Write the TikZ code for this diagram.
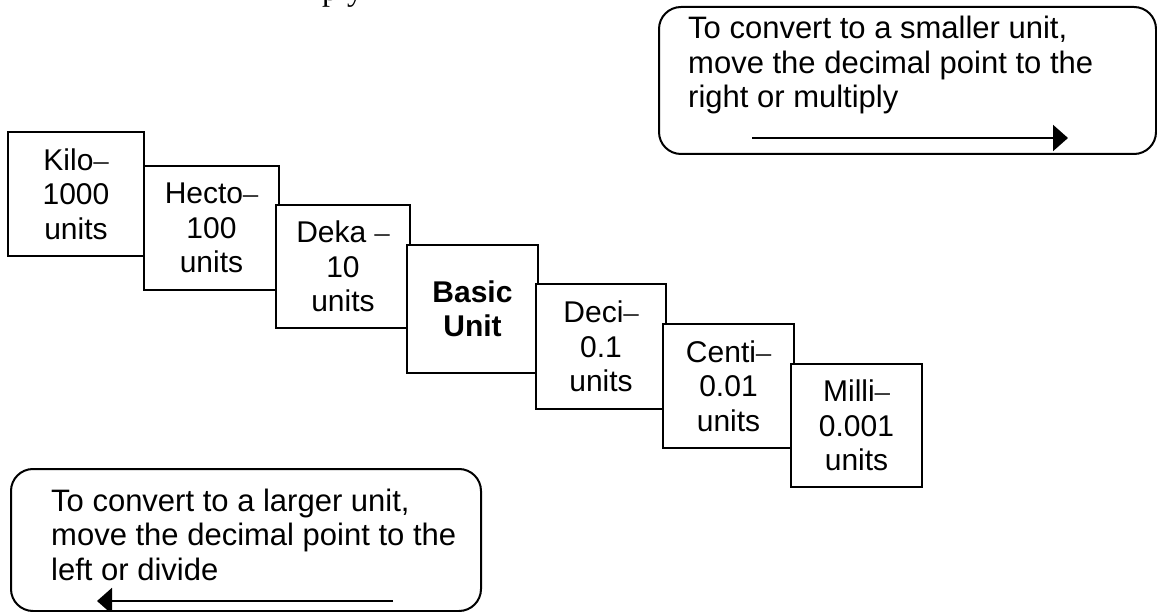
\documentclass[tikz,border=0pt]{standalone}
\usepackage{fontspec}
\setmainfont{Liberation Sans}
\newfontfamily\seriffont{Liberation Serif}
\newcommand\thindash{{\seriffont –}}
\usetikzlibrary{arrows.meta}
\begin{document}
\begin{tikzpicture}[x=1pt,y=-1pt,
  unitbox/.style={draw, line width=2pt, fill=white, align=center,
    font=\fontsize{30}{34.5}\selectfont, inner sep=0pt},
  callout/.style={draw, line width=2pt, rounded corners=22pt, inner sep=0pt},
  callText/.style={anchor=base west, align=left, inner sep=0pt,
    font=\fontsize{31}{34.5}\selectfont},
  convArrow/.style={line width=2pt, -{Triangle[length=15pt,width=26pt]}}]
\useasboundingbox (0,0) rectangle (1157,612);
\node[anchor=base west, inner sep=0pt, font=\seriffont\fontsize{32}{32}\selectfont] (cut) at (322,0.5) {ply};
\node[unitbox, minimum width=136pt, minimum height=124pt] (kilo) at (76,194) {Kilo\thindash\\1000\\units};
\node[unitbox, minimum width=135pt, minimum height=124pt] (hecto) at (211.5,228) {Hecto\thindash\\100\\units};
\node[unitbox, minimum width=134pt, minimum height=123pt] (deka) at (343,266.5) {Deka \thindash\\10\\units};
\node[unitbox, minimum width=131pt, minimum height=128pt, font=\fontsize{30}{34.5}\selectfont\bfseries] (basic) at (472.5,309) {Basic\\Unit};
\node[unitbox, minimum width=130pt, minimum height=125pt] (deci) at (601,346.5) {Deci\thindash\\0.1\\units};
\node[unitbox, minimum width=131pt, minimum height=124pt] (centi) at (728.5,386) {Centi\thindash\\0.01\\units};
\node[unitbox, minimum width=131pt, minimum height=123pt] (milli) at (856.5,425.5) {Milli\thindash\\0.001\\units};
% top callout
\node[callout, minimum width=497pt, minimum height=147pt, anchor=north west] (smaller) at (658,6) {};
\node[callText] (smallerText) at (688,108) {To convert to a smaller unit,\\move the decimal point to the\\right or multiply};
\coordinate (sA) at (752,138);
\coordinate (sB) at (1068,138);
\draw[convArrow] (sA) -- (sB);
% bottom callout
\node[callout, minimum width=470pt, minimum height=142pt, anchor=north west] (larger) at (10,468) {};
\node[callText] (largerText) at (51,580) {To convert to a larger unit,\\move the decimal point to the\\left or divide};
\coordinate (lA) at (393,601);
\coordinate (lB) at (97,601);
\draw[convArrow] (lA) -- (lB);
\end{tikzpicture}
\end{document}
